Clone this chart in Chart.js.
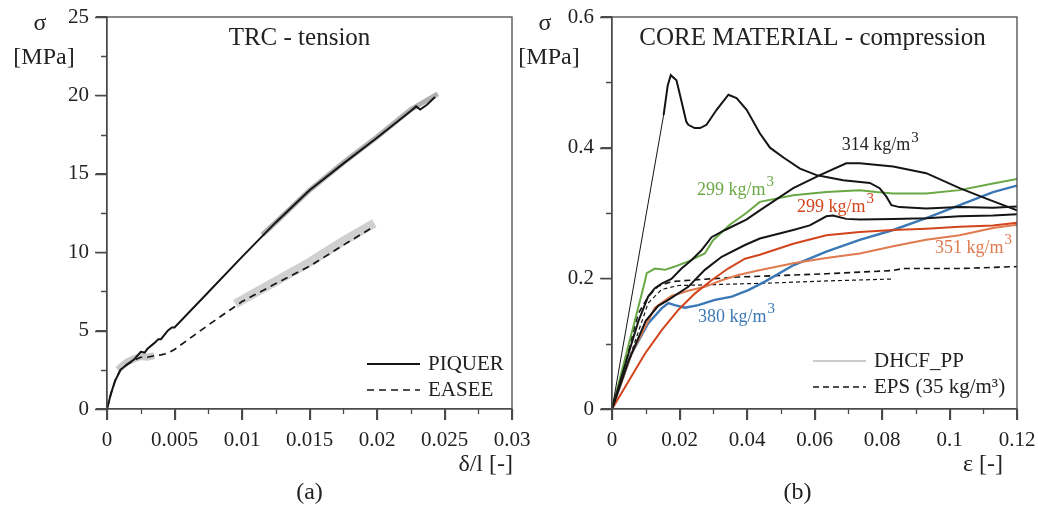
<!DOCTYPE html>
<html>
<head>
<meta charset="utf-8">
<script src="https://cdn.jsdelivr.net/npm/chart.js@4.4.1/dist/chart.umd.min.js"></script>
<style>
  body { margin: 0; background: #fff; }
  .panel { position: absolute; top: 0; }
</style>
</head>
<body>
<div class="panel" style="left:0px"><canvas id="left" width="540" height="513"></canvas></div>
<div class="panel" style="left:505px"><canvas id="right" width="533" height="513"></canvas></div>
<script>
// --- (a) TRC - tension ---
const piquerX = [0, 0.0003, 0.0006, 0.001, 0.0015, 0.002, 0.0025, 0.0028, 0.003, 0.0035, 0.0038, 0.004, 0.0045, 0.0048, 0.005, 0.0075, 0.01, 0.0125, 0.015, 0.0175, 0.02, 0.0225, 0.0229, 0.0232, 0.0237, 0.0243];
const piquerY = [0, 1.0, 1.8, 2.5, 2.85, 3.15, 3.65, 3.6, 3.85, 4.2, 4.45, 4.45, 5.0, 5.2, 5.2, 7.45, 9.7, 11.9, 13.95, 15.65, 17.3, 19.0, 19.3, 19.1, 19.4, 19.9];
const easeeX = [0, 0.0003, 0.0006, 0.001, 0.0015, 0.002, 0.0025, 0.003, 0.0035, 0.004, 0.0045, 0.005, 0.0075, 0.01, 0.0125, 0.015, 0.0175, 0.0198];
const easeeY = [0, 1.0, 1.8, 2.5, 2.85, 3.1, 3.3, 3.3, 3.4, 3.45, 3.55, 3.8, 5.35, 6.85, 8.0, 9.1, 10.45, 11.65];
// grey scatter envelopes
const piquerBandX = [0.0115, 0.0125, 0.015, 0.0175, 0.02, 0.0225, 0.0245];
const piquerBandY = [11.1, 11.9, 13.95, 15.7, 17.35, 19.1, 20.1];
const easeeBandX = [0.0095, 0.0125, 0.015, 0.0175, 0.0198];
const easeeBandY = [6.7, 8.15, 9.35, 10.7, 11.85];
const initBandX = [0.0008, 0.0015, 0.002, 0.0025, 0.003, 0.0035];
const initBandY = [2.5, 3.0, 3.2, 3.35, 3.3, 3.4];

// --- (b) core material - compression ---
const dhcfPeakX = [0, 0.0153, 0.0165, 0.0174, 0.0191, 0.0205, 0.022, 0.0226, 0.0245, 0.0261, 0.028, 0.031, 0.0345, 0.0369, 0.0399, 0.0438, 0.0468, 0.0508, 0.0557, 0.0606, 0.0635, 0.0685, 0.0764, 0.0793, 0.0813, 0.0828, 0.0852, 0.0931, 0.103, 0.1129, 0.12];
const dhcfPeakY = [0, 0.45, 0.495, 0.511, 0.503, 0.473, 0.44, 0.435, 0.43, 0.43, 0.435, 0.458, 0.481, 0.476, 0.458, 0.422, 0.4, 0.385, 0.368, 0.358, 0.355, 0.35, 0.346, 0.338, 0.325, 0.312, 0.309, 0.307, 0.309, 0.308, 0.31];
const d314X = [0, 0.0049, 0.0078, 0.0107, 0.0127, 0.0147, 0.0176, 0.0206, 0.0236, 0.0265, 0.0295, 0.0335, 0.0398, 0.0438, 0.0537, 0.0616, 0.0694, 0.0734, 0.0833, 0.0931, 0.103, 0.1109, 0.12];
const d314Y = [0, 0.085, 0.134, 0.172, 0.185, 0.192, 0.199, 0.215, 0.228, 0.243, 0.263, 0.274, 0.29, 0.304, 0.338, 0.358, 0.376, 0.376, 0.371, 0.361, 0.338, 0.322, 0.304];
const dLowX = [0, 0.005, 0.01, 0.0137, 0.0167, 0.0226, 0.0275, 0.0325, 0.0394, 0.0438, 0.0537, 0.0586, 0.0635, 0.0655, 0.0694, 0.0734, 0.0833, 0.0931, 0.103, 0.1129, 0.12];
const dLowY = [0, 0.075, 0.135, 0.158, 0.167, 0.187, 0.213, 0.233, 0.251, 0.261, 0.274, 0.281, 0.295, 0.296, 0.291, 0.29, 0.291, 0.292, 0.295, 0.296, 0.298];
const green299X = [0, 0.005, 0.0095, 0.0103, 0.0127, 0.0157, 0.0186, 0.0226, 0.0275, 0.0299, 0.0349, 0.0398, 0.0438, 0.0537, 0.0635, 0.0734, 0.0783, 0.0833, 0.0931, 0.103, 0.1129, 0.12];
const green299Y = [0, 0.1, 0.19, 0.208, 0.215, 0.213, 0.218, 0.226, 0.238, 0.258, 0.282, 0.3, 0.317, 0.327, 0.332, 0.335, 0.332, 0.33, 0.33, 0.335, 0.345, 0.352];
const red299X = [0, 0.0098, 0.0148, 0.0197, 0.0246, 0.0295, 0.0344, 0.0394, 0.0438, 0.0537, 0.0635, 0.0734, 0.0833, 0.0931, 0.103, 0.1129, 0.12];
const red299Y = [0, 0.085, 0.121, 0.152, 0.177, 0.197, 0.215, 0.23, 0.236, 0.253, 0.266, 0.271, 0.274, 0.276, 0.279, 0.281, 0.285];
const orange351X = [0, 0.0058, 0.0127, 0.0176, 0.0226, 0.0275, 0.0325, 0.0374, 0.0433, 0.0537, 0.0635, 0.0734, 0.0833, 0.0931, 0.103, 0.1129, 0.12];
const orange351Y = [0, 0.085, 0.155, 0.173, 0.181, 0.187, 0.197, 0.205, 0.212, 0.223, 0.231, 0.238, 0.249, 0.259, 0.266, 0.277, 0.282];
const blue380X = [0, 0.0058, 0.0107, 0.0147, 0.0167, 0.0186, 0.0216, 0.0256, 0.0305, 0.0355, 0.0404, 0.0453, 0.0537, 0.0635, 0.0734, 0.0833, 0.0931, 0.103, 0.1129, 0.12];
const blue380Y = [0, 0.085, 0.131, 0.154, 0.162, 0.159, 0.155, 0.159, 0.167, 0.172, 0.182, 0.195, 0.22, 0.241, 0.259, 0.274, 0.292, 0.312, 0.332, 0.342];
const epsAX = [0, 0.0078, 0.0107, 0.0137, 0.0176, 0.0256, 0.0374, 0.0482, 0.0635, 0.0833, 0.0862, 0.103, 0.12];
const epsAY = [0, 0.146, 0.172, 0.188, 0.195, 0.198, 0.202, 0.204, 0.207, 0.212, 0.215, 0.215, 0.218];
const epsBX = [0, 0.0107, 0.0147, 0.0197, 0.0275, 0.0482, 0.0635, 0.0833];
const epsBY = [0, 0.162, 0.183, 0.189, 0.19, 0.193, 0.196, 0.199];

// density labels: text, x, y (data coords, left edge / middle)
const notes = [
    { text: '314 kg/m', x: 0.0681, y: 0.403, color: '#222' },
    { text: '299 kg/m', x: 0.0252, y: 0.335, color: '#6aa846' },
    { text: '299 kg/m', x: 0.0548, y: 0.309, color: '#d2441c' },
    { text: '351 kg/m', x: 0.0957, y: 0.246, color: '#e07a4f' },
    { text: '380 kg/m', x: 0.0255, y: 0.141, color: '#3b78b5' }
];

const FONT = '"Liberation Serif", "Times New Roman", serif';
const AXIS = '#4a4a4a';
Chart.defaults.font.family = FONT;
Chart.defaults.color = '#222';

function pts(xs, ys) {
    return xs.map((x, i) => ({ x: x, y: ys[i] }));
}

function line(data, color, width, dash, order) {
    return {
        data: data,
        borderColor: color,
        borderWidth: width,
        borderDash: dash || [],
        showLine: true,
        pointRadius: 0,
        tension: 0,
        order: order || 0
    };
}

function fmt(v) {
    return String(+v.toFixed(4));
}

// frame, ticks, titles, legend, notes
const decor = {
    id: 'decor',
    afterDraw(chart, args, o) {
        const ctx = chart.ctx;
        const a = chart.chartArea;
        const sx = chart.scales.x, sy = chart.scales.y;
        ctx.save();
        ctx.strokeStyle = AXIS;
        ctx.lineWidth = 1.3;
        ctx.strokeRect(a.left, a.top, a.right - a.left, a.bottom - a.top);

        // major + minor ticks, pointing outwards
        ctx.beginPath();
        const nx = Math.round(sx.max / o.xMinor);
        for (let i = 0; i <= nx; i++) {
            const px = Math.round(sx.getPixelForValue(i * o.xMinor)) + 0.5;
            ctx.moveTo(px, a.bottom);
            ctx.lineTo(px, a.bottom + (i % 2 ? 5 : 11));
        }
        const ny = Math.round(sy.max / o.yMinor);
        for (let i = 0; i <= ny; i++) {
            const py = Math.round(sy.getPixelForValue(i * o.yMinor)) + 0.5;
            ctx.moveTo(a.left, py);
            ctx.lineTo(a.left - (i % 2 ? 6 : 12), py);
        }
        ctx.stroke();

        ctx.fillStyle = '#222';
        ctx.textBaseline = 'middle';
        ctx.textAlign = 'center';
        ctx.font = '25px ' + FONT;
        ctx.fillText(o.title, (a.left + a.right) / 2 + o.titleShift, 38);
        ctx.font = '24px ' + FONT;
        ctx.fillText('σ', a.left - 67, 24);
        ctx.fillText('[MPa]', a.left - 63, 58);
        ctx.fillText(o.panel, (a.left + a.right) / 2 + o.panelShift, 493);
        ctx.textAlign = 'right';
        ctx.fillText(o.xLabel, a.right + o.xLabelShift, 465);

        // legend
        ctx.font = '21px ' + FONT;
        ctx.textAlign = 'left';
        o.legend.forEach((item, i) => {
            const y = a.bottom + o.legendY + i * 26;
            ctx.beginPath();
            ctx.strokeStyle = item.color;
            ctx.lineWidth = item.width;
            ctx.setLineDash(item.dash);
            ctx.moveTo(a.right + o.legendX, y);
            ctx.lineTo(a.right + o.legendX + 53, y);
            ctx.stroke();
            ctx.setLineDash([]);
            ctx.fillText(item.label, a.right + o.legendX + 61, y);
        });

        (o.notes || []).forEach(n => {
            const px = sx.getPixelForValue(n.x);
            const py = sy.getPixelForValue(n.y);
            ctx.fillStyle = n.color;
            ctx.font = '18px ' + FONT;
            ctx.fillText(n.text, px, py);
            const w = ctx.measureText(n.text).width;
            ctx.font = '15px ' + FONT;
            ctx.fillText('3', px + w + 1, py - 8);
        });
        ctx.restore();
    }
};

function axes(xMax, xStep, yMax, yStep) {
    const common = {
        border: { display: true, color: AXIS, width: 1.3 },
        grid: { drawOnChartArea: false, drawTicks: true, tickLength: 11, color: AXIS, lineWidth: 1.3 },
    };
    return {
        x: {
            type: 'linear', min: 0, max: xMax,
            ...common,
            ticks: { stepSize: xStep, autoSkip: false, maxRotation: 0, padding: 8, font: { size: 21 }, color: '#222', callback: fmt },
            afterFit(s) { s.height = 50; s.paddingLeft = 0; s.paddingRight = 0; }
        },
        y: {
            type: 'linear', min: 0, max: yMax,
            ...common,
            ticks: { stepSize: yStep, padding: 7, font: { size: 21 }, color: '#222', callback: fmt },
            afterFit(s) { s.width = 107; s.paddingTop = 0; s.paddingBottom = 0; }
        }
    };
}

new Chart(document.getElementById('left'), {
    type: 'scatter',
    data: {
        datasets: [
            line(pts(piquerX, piquerY), '#151515', 2),
            line(pts(easeeX, easeeY), '#151515', 1.7, [7, 5]),
            line(pts(piquerBandX, piquerBandY), 'rgba(150,150,150,0.75)', 5, null, 3),
            line(pts(easeeBandX, easeeBandY), 'rgba(200,200,200,0.85)', 9, null, 3),
            line(pts(initBandX, initBandY), 'rgba(190,190,190,0.85)', 7, null, 3)
        ]
    },
    options: {
        responsive: false,
        animation: false,
        layout: { padding: { left: 0, top: 17, right: 28, bottom: 54 } },
        plugins: {
            legend: { display: false },
            tooltip: { enabled: false },
            decor: {
                title: 'TRC - tension', titleShift: -10,
                panel: '(a)', panelShift: 0,
                xLabel: 'δ/l [-]', xLabelShift: 1,
                xMinor: 0.0025, yMinor: 2.5,
                legendX: -145, legendY: -45,
                legend: [
                    { label: 'PIQUER', color: '#151515', width: 1.8, dash: [] },
                    { label: 'EASEE', color: '#151515', width: 1.6, dash: [7, 5] }
                ]
            }
        },
        scales: axes(0.03, 0.005, 25, 5)
    },
    plugins: [decor]
});

new Chart(document.getElementById('right'), {
    type: 'scatter',
    data: {
        datasets: [
            Object.assign(line(pts(dhcfPeakX, dhcfPeakY), '#151515', 2), {
                segment: { borderWidth: c => c.p0DataIndex === 0 ? 1 : 2 }
            }),
            line(pts(d314X, d314Y), '#151515', 2),
            line(pts(dLowX, dLowY), '#151515', 2),
            line(pts(green299X, green299Y), '#6aa846', 2),
            line(pts(red299X, red299Y), '#d2441c', 2),
            line(pts(orange351X, orange351Y), '#e07a4f', 2),
            line(pts(blue380X, blue380Y), '#3b78b5', 2.4),
            line(pts(epsAX, epsAY), '#151515', 1.6, [6, 4]),
            line(pts(epsBX, epsBY), '#151515', 1.2, [4, 3])
        ]
    },
    options: {
        responsive: false,
        animation: false,
        layout: { padding: { left: 0, top: 17, right: 21, bottom: 54 } },
        plugins: {
            legend: { display: false },
            tooltip: { enabled: false },
            decor: {
                title: 'CORE MATERIAL - compression', titleShift: -2,
                panel: '(b)', panelShift: -17,
                xLabel: 'ε [-]', xLabelShift: -14,
                xMinor: 0.01, yMinor: 0.1,
                legendX: -204, legendY: -48,
                legend: [
                    { label: 'DHCF_PP', color: '#9a9a9a', width: 1.2, dash: [] },
                    { label: 'EPS (35 kg/m³)', color: '#151515', width: 1.6, dash: [6, 4] }
                ],
                notes: notes
            }
        },
        scales: axes(0.12, 0.02, 0.6, 0.2)
    },
    plugins: [decor]
});
</script>
</body>
</html>
